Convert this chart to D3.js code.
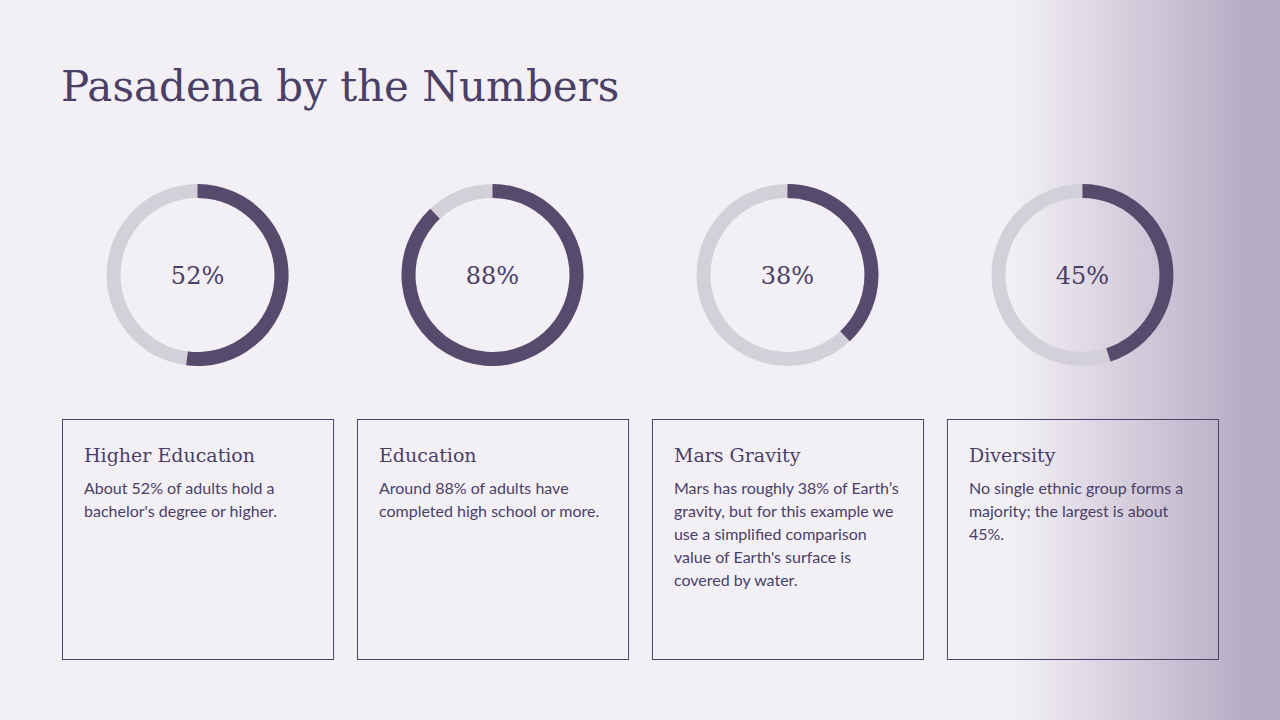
<!DOCTYPE html>
<html>
<head>
<meta charset="utf-8">
<script src="https://cdn.jsdelivr.net/npm/d3@7"></script>
<style>
  html, body { margin: 0; padding: 0; background: #f3f0f5; }
  svg { display: block; }
</style>
</head>
<body>
<div id="chart"></div>
<script>
// Chart data
const titles = ['Higher Education', 'Education', 'Mars Gravity', 'Diversity'];
const values = [52, 88, 38, 45];
const descriptions = [
  ["About 52% of adults hold a", "bachelor's degree or higher."],
  ["Around 88% of adults have", "completed high school or more."],
  ["Mars has roughly 38% of Earth\u2019s", "gravity, but for this example we", "use a simplified comparison", "value of Earth's surface is", "covered by water."],
  ["No single ethnic group forms a", "majority; the largest is about", "45%."]
];

const W = 1280, H = 720;
const DARK = '#564a6d';
const TRACK = '#d4d0da';
const INK = '#4a4066';

const svg = d3.select('#chart').append('svg')
  .attr('width', W)
  .attr('height', H);

// background + right-hand fade
const defs = svg.append('defs');
const grad = defs.append('linearGradient').attr('id', 'fade')
  .attr('gradientUnits', 'userSpaceOnUse')
  .attr('x1', 1010).attr('x2', 1250).attr('y1', 0).attr('y2', 0);
grad.append('stop').attr('offset', '0%').attr('stop-color', '#f3f0f5');
grad.append('stop').attr('offset', '100%').attr('stop-color', '#b5abc4');

svg.append('rect').attr('width', W).attr('height', H).attr('fill', '#f3f0f5');
svg.append('rect').attr('x', 1010).attr('width', W - 1010).attr('height', H).attr('fill', 'url(#fade)');

svg.append('text')
  .attr('x', 61)
  .attr('y', 101)
  .attr('fill', INK)
  .style('font-family', '"DejaVu Serif", serif')
  .style('font-size', '42px')
  .text('Pasadena by the Numbers');

const x = d3.scaleBand()
  .domain(titles)
  .range([62, 1218])
  .paddingInner(0.081);

const angle = d3.scaleLinear().domain([0, 100]).range([0, 2 * Math.PI]);
const arc = d3.arc().innerRadius(77).outerRadius(91);

const cols = svg.selectAll('g.col')
  .data(titles.map((t, i) => ({ title: t, value: values[i], lines: descriptions[i] })))
  .join('g')
  .attr('class', 'col')
  .attr('transform', (d) => `translate(${x(d.title)},0)`);

const cx = x.bandwidth() / 2;

// donut track + value arc
cols.append('path')
  .attr('transform', `translate(${cx},275)`)
  .attr('d', arc({ startAngle: 0, endAngle: 2 * Math.PI }))
  .attr('fill', TRACK);

cols.append('path')
  .attr('transform', `translate(${cx},275)`)
  .attr('d', (d) => arc({ startAngle: 0, endAngle: angle(d.value) }))
  .attr('fill', DARK);

cols.append('text')
  .attr('x', cx)
  .attr('y', 284)
  .attr('text-anchor', 'middle')
  .attr('fill', INK)
  .style('font-family', '"DejaVu Serif", serif')
  .style('font-size', '24px')
  .text((d) => `${d.value}%`);

// cards
cols.append('rect')
  .attr('x', 0.5)
  .attr('y', 419.5)
  .attr('width', x.bandwidth())
  .attr('height', 240)
  .attr('fill', 'none')
  .attr('stroke', '#4a4268')
  .attr('stroke-width', 1);

cols.append('text')
  .attr('x', 22)
  .attr('y', 462)
  .attr('fill', INK)
  .style('font-family', '"DejaVu Serif", serif')
  .style('font-size', '19px')
  .text((d) => d.title);

cols.append('text')
  .attr('fill', INK)
  .style('font-family', 'Lato, sans-serif')
  .style('font-size', '16px')
  .selectAll('tspan')
  .data((d) => d.lines)
  .join('tspan')
  .attr('x', 22)
  .attr('y', (d, i) => 494 + i * 23)
  .text((d) => d);
</script>
</body>
</html>
